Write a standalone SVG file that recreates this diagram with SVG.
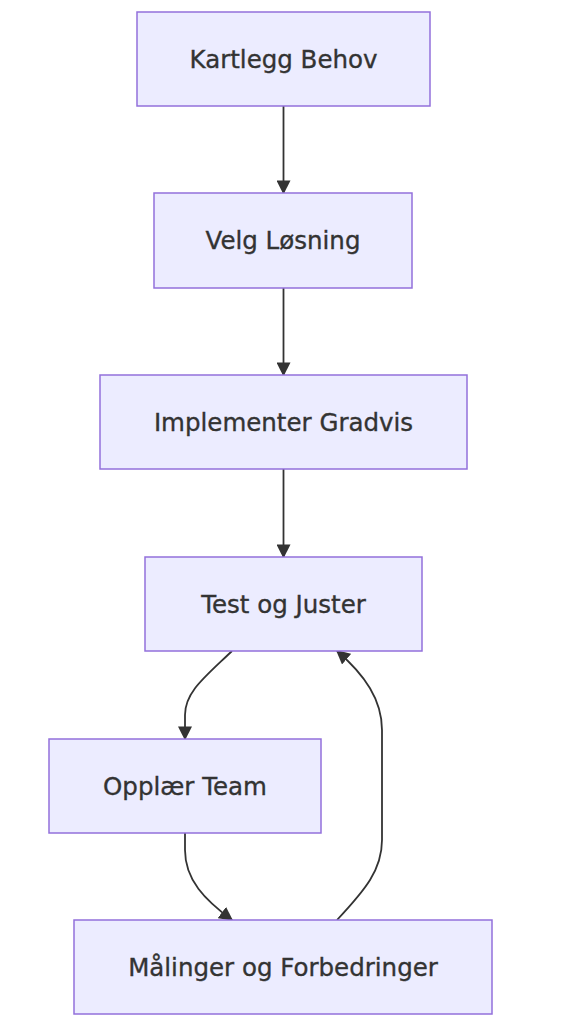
<svg xmlns="http://www.w3.org/2000/svg" width="563" height="1024" viewBox="0 0 563 1024">
<style>
.node rect{fill:#ECECFF;stroke:#9370DB;stroke-width:1.5}
.node text{font-family:"DejaVu Sans","Liberation Sans",sans-serif;font-size:24.5px;fill:#333;stroke:#333;stroke-width:0.35;text-anchor:middle;dominant-baseline:central}
.edge{fill:none;stroke:#333;stroke-width:1.8}
</style>
<defs>
<marker id="arrow" viewBox="0 0 10 10" refX="9" refY="5" markerWidth="14" markerHeight="14" markerUnits="userSpaceOnUse" orient="auto">
<path d="M0,0 L10,5 L0,10 z" fill="#333"/>
</marker>
</defs>
<rect width="563" height="1024" fill="#fff"/>
<g id="edges">
<path class="edge" d="M283.5,106 L283.5,193" marker-end="url(#arrow)"/>
<path class="edge" d="M283.5,288 L283.5,375" marker-end="url(#arrow)"/>
<path class="edge" d="M283.5,469 L283.5,557" marker-end="url(#arrow)"/>
<path class="edge" d="M232,651 C205,677 185,692 185,715 L185,739" marker-end="url(#arrow)"/>
<path class="edge" d="M185,833 L185,850 C185,880 205,900 232,920" marker-end="url(#arrow)"/>
<path class="edge" d="M337,920 C365,890 382,870 382,840 L382,730 C382,700 365,675 337,651" marker-end="url(#arrow)"/>
</g>
<g id="n1" class="node"><rect x="137" y="12" width="293" height="94"/><text x="283.5" y="59">Kartlegg Behov</text></g>
<g id="n2" class="node"><rect x="154" y="193" width="258" height="95"/><text x="283" y="240.5">Velg Løsning</text></g>
<g id="n3" class="node"><rect x="100" y="375" width="367" height="94"/><text x="283.5" y="422">Implementer Gradvis</text></g>
<g id="n4" class="node"><rect x="145" y="557" width="277" height="94"/><text x="283.5" y="604">Test og Juster</text></g>
<g id="n5" class="node"><rect x="49" y="739" width="272" height="94"/><text x="185" y="786">Opplær Team</text></g>
<g id="n6" class="node"><rect x="74" y="920" width="418" height="94"/><text x="283" y="967">Målinger og Forbedringer</text></g>
</svg>
